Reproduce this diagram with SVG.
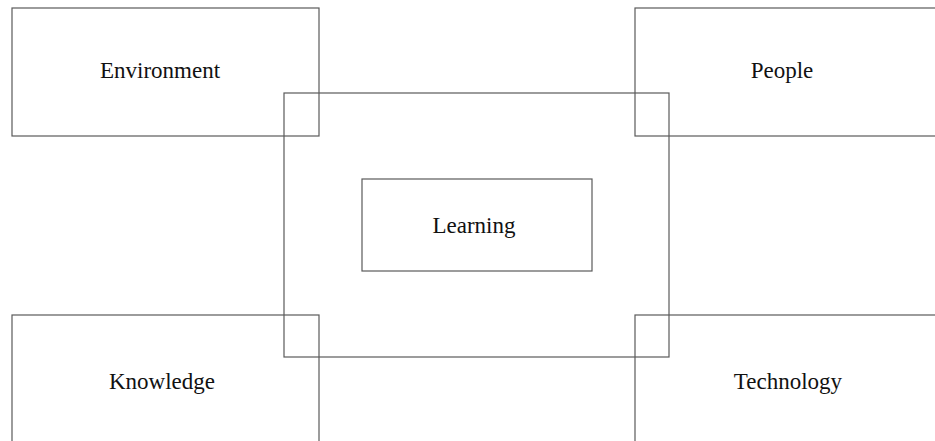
<svg xmlns="http://www.w3.org/2000/svg" width="935" height="441" viewBox="0 0 935 441">
<style>
.box{fill:none;stroke:#5a5a5a;stroke-width:1.2}
.lbl{font-family:"Liberation Serif","Times New Roman",serif;font-size:23px;fill:#111;text-anchor:middle}
</style>
<rect width="935" height="441" fill="#fff"/>
<g id="environment"><rect class="box" x="12" y="8" width="307" height="128"/><text class="lbl" x="160" y="78">Environment</text></g>
<g id="people"><rect class="box" x="635" y="8" width="310" height="128"/><text class="lbl" x="782" y="78">People</text></g>
<g id="knowledge"><rect class="box" x="12" y="315" width="307" height="140"/><text class="lbl" x="162" y="389">Knowledge</text></g>
<g id="technology"><rect class="box" x="635" y="315" width="310" height="140"/><text class="lbl" x="788" y="389">Technology</text></g>
<g id="frame"><rect class="box" x="284" y="93" width="385" height="264"/></g>
<g id="learning"><rect class="box" x="362" y="179" width="230" height="92"/><text class="lbl" x="474" y="233">Learning</text></g>
<g id="connectors"></g>
</svg>
